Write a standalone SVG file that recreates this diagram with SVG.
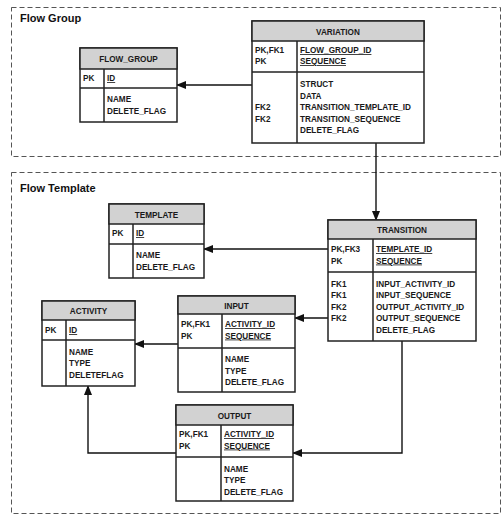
<svg xmlns="http://www.w3.org/2000/svg" width="504" height="518" viewBox="0 0 504 518">
<defs>
<style>
.bg{fill:#ffffff}
.zone{fill:none;stroke:#555;stroke-width:1;stroke-dasharray:5,3}
.title{font-family:"Liberation Sans",Arial,sans-serif;font-weight:bold;font-size:11px;fill:#111}
.box{fill:#fff;stroke:#222;stroke-width:1.5}
.hdr{fill:#d2d2d2;stroke:#222;stroke-width:1.5}
.ln{stroke:#222;stroke-width:1.5;fill:none}
.t{font-family:"Liberation Sans",Arial,sans-serif;font-weight:bold;font-size:8.2px;fill:#1a1a1a}
.h{text-anchor:middle}
.u{text-decoration:underline}
.con{stroke:#111;stroke-width:1.4;fill:none}
</style>
<marker id="arr" markerWidth="10" markerHeight="8" refX="9" refY="4" orient="auto" markerUnits="userSpaceOnUse">
<path d="M0,0 L10,4 L0,8 Z" fill="#111"/>
</marker>
</defs>
<rect class="bg" x="0" y="0" width="504" height="518"/>
<rect class="zone" x="11.5" y="7.5" width="489" height="149"/>
<text class="title" x="20" y="22">Flow Group</text>
<rect class="zone" x="11.5" y="172.5" width="489" height="341"/>
<text class="title" x="20" y="192">Flow Template</text>

<g id="connectors">
<line class="con" x1="252" y1="85" x2="177" y2="85" marker-end="url(#arr)"/>
<line class="con" x1="376" y1="143" x2="376" y2="220" marker-end="url(#arr)"/>
<line class="con" x1="328" y1="249" x2="204" y2="249" marker-end="url(#arr)"/>
<line class="con" x1="328" y1="318" x2="295" y2="318" marker-end="url(#arr)"/>
<line class="con" x1="178" y1="344" x2="135" y2="344" marker-end="url(#arr)"/>
<polyline class="con" points="176,453 88,453 88,386" marker-end="url(#arr)"/>
<polyline class="con" points="402,341 402,453 293,453" marker-end="url(#arr)"/>
</g>

<g id="flow_group">
<rect class="box" x="80" y="48" width="97" height="74"/>
<rect class="hdr" x="80" y="48" width="97" height="21"/>
<line class="ln" x1="80" y1="88" x2="177" y2="88"/>
<line class="ln" x1="104" y1="69" x2="104" y2="122"/>
<text class="t h" x="128.5" y="62">FLOW_GROUP</text>
<text class="t" x="83" y="81">PK</text>
<text class="t u" x="107" y="81">ID</text>
<text class="t" x="107" y="102">NAME</text>
<text class="t" x="107" y="113.5">DELETE_FLAG</text>
</g>

<g id="variation">
<rect class="box" x="252" y="21" width="172" height="122"/>
<rect class="hdr" x="252" y="21" width="172" height="20"/>
<line class="ln" x1="252" y1="72" x2="424" y2="72"/>
<line class="ln" x1="297" y1="41" x2="297" y2="143"/>
<text class="t h" x="338" y="35">VARIATION</text>
<text class="t" x="255" y="53">PK,FK1</text>
<text class="t" x="255" y="64">PK</text>
<text class="t u" x="300" y="53">FLOW_GROUP_ID</text>
<text class="t u" x="300" y="64">SEQUENCE</text>
<text class="t" x="300" y="87">STRUCT</text>
<text class="t" x="300" y="98.5">DATA</text>
<text class="t" x="300" y="110">TRANSITION_TEMPLATE_ID</text>
<text class="t" x="300" y="121.5">TRANSITION_SEQUENCE</text>
<text class="t" x="300" y="133">DELETE_FLAG</text>
<text class="t" x="255" y="110">FK2</text>
<text class="t" x="255" y="121.5">FK2</text>
</g>

<g id="template">
<rect class="box" x="109" y="204" width="95" height="74"/>
<rect class="hdr" x="109" y="204" width="95" height="20"/>
<line class="ln" x1="109" y1="244" x2="204" y2="244"/>
<line class="ln" x1="133" y1="224" x2="133" y2="278"/>
<text class="t h" x="156.5" y="217.5">TEMPLATE</text>
<text class="t" x="112" y="236">PK</text>
<text class="t u" x="136" y="236">ID</text>
<text class="t" x="136" y="258">NAME</text>
<text class="t" x="136" y="269.5">DELETE_FLAG</text>
</g>

<g id="transition">
<rect class="box" x="328" y="220" width="148" height="121"/>
<rect class="hdr" x="328" y="220" width="148" height="19"/>
<line class="ln" x1="328" y1="272" x2="476" y2="272"/>
<line class="ln" x1="373" y1="239" x2="373" y2="341"/>
<text class="t h" x="402" y="233">TRANSITION</text>
<text class="t" x="331" y="252">PK,FK3</text>
<text class="t" x="331" y="263.5">PK</text>
<text class="t u" x="376" y="252">TEMPLATE_ID</text>
<text class="t u" x="376" y="263.5">SEQUENCE</text>
<text class="t" x="331" y="286.5">FK1</text>
<text class="t" x="331" y="298">FK1</text>
<text class="t" x="331" y="309.5">FK2</text>
<text class="t" x="331" y="321">FK2</text>
<text class="t" x="376" y="286.5">INPUT_ACTIVITY_ID</text>
<text class="t" x="376" y="298">INPUT_SEQUENCE</text>
<text class="t" x="376" y="309.5">OUTPUT_ACTIVITY_ID</text>
<text class="t" x="376" y="321">OUTPUT_SEQUENCE</text>
<text class="t" x="376" y="332.5">DELETE_FLAG</text>
</g>

<g id="activity">
<rect class="box" x="42" y="301" width="93" height="85"/>
<rect class="hdr" x="42" y="301" width="93" height="19"/>
<line class="ln" x1="42" y1="340" x2="135" y2="340"/>
<line class="ln" x1="66" y1="320" x2="66" y2="386"/>
<text class="t h" x="88.5" y="314">ACTIVITY</text>
<text class="t" x="45" y="333">PK</text>
<text class="t u" x="69" y="333">ID</text>
<text class="t" x="69" y="354.5">NAME</text>
<text class="t" x="69" y="366">TYPE</text>
<text class="t" x="69" y="377.5">DELETEFLAG</text>
</g>

<g id="input">
<rect class="box" x="178" y="296" width="117" height="96"/>
<rect class="hdr" x="178" y="296" width="117" height="18"/>
<line class="ln" x1="178" y1="348" x2="295" y2="348"/>
<line class="ln" x1="222" y1="314" x2="222" y2="392"/>
<text class="t h" x="236.5" y="308.5">INPUT</text>
<text class="t" x="181" y="327">PK,FK1</text>
<text class="t" x="181" y="338.5">PK</text>
<text class="t u" x="225" y="327">ACTIVITY_ID</text>
<text class="t u" x="225" y="338.5">SEQUENCE</text>
<text class="t" x="225" y="362">NAME</text>
<text class="t" x="225" y="373.5">TYPE</text>
<text class="t" x="225" y="385">DELETE_FLAG</text>
</g>

<g id="output">
<rect class="box" x="176" y="405" width="117" height="96"/>
<rect class="hdr" x="176" y="405" width="117" height="20"/>
<line class="ln" x1="176" y1="457" x2="293" y2="457"/>
<line class="ln" x1="221" y1="425" x2="221" y2="501"/>
<text class="t h" x="234.5" y="418.5">OUTPUT</text>
<text class="t" x="179" y="437">PK,FK1</text>
<text class="t" x="179" y="448.5">PK</text>
<text class="t u" x="224" y="437">ACTIVITY_ID</text>
<text class="t u" x="224" y="448.5">SEQUENCE</text>
<text class="t" x="224" y="471.5">NAME</text>
<text class="t" x="224" y="483">TYPE</text>
<text class="t" x="224" y="494.5">DELETE_FLAG</text>
</g>
</svg>
